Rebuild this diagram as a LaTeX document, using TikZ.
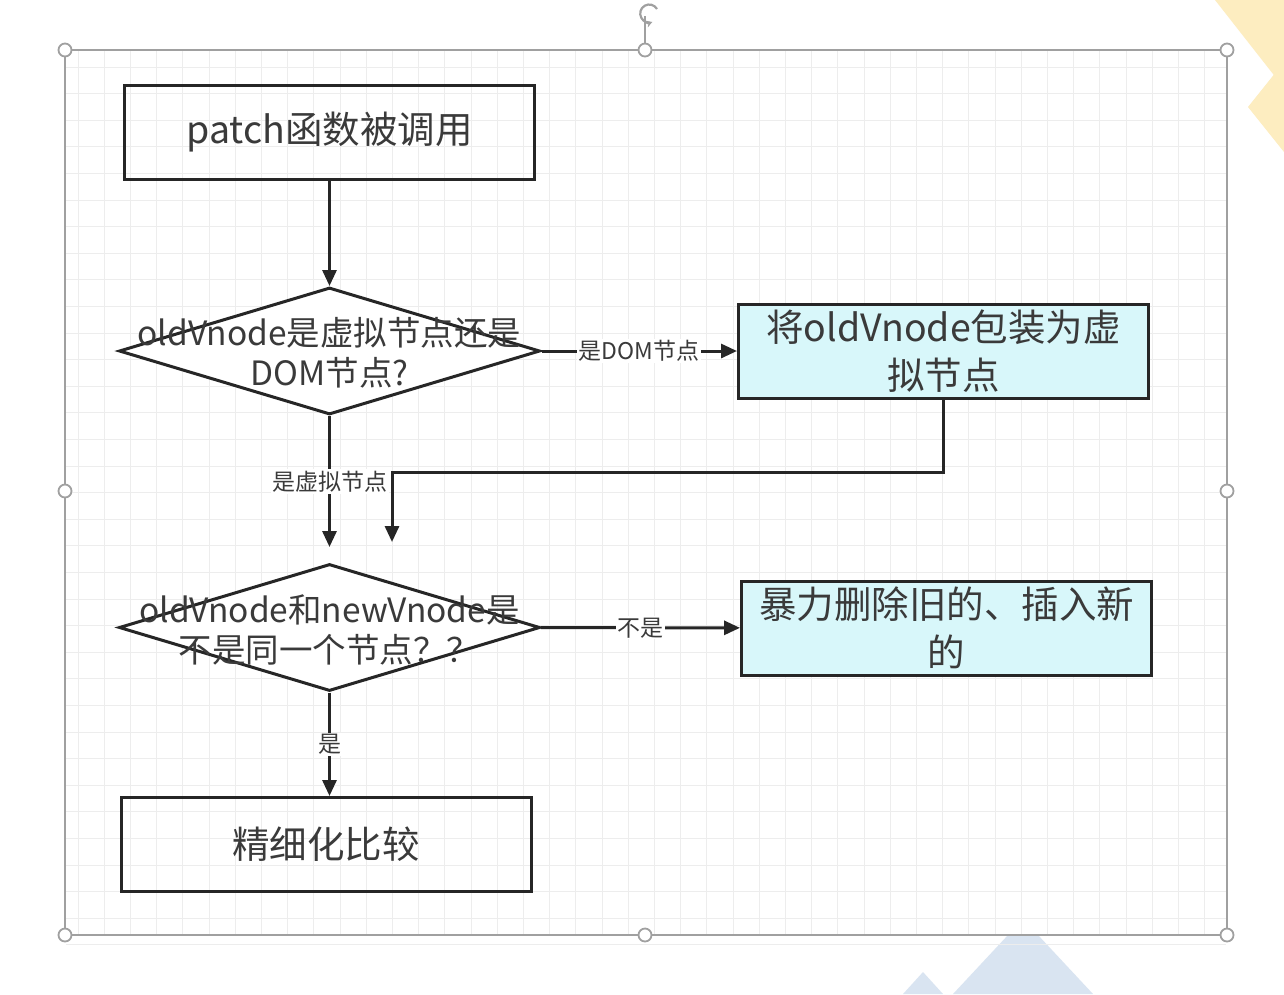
\documentclass[tikz,border=0pt]{standalone}
\usepackage{fontspec}
\setmainfont{Noto Sans CJK SC}
\usetikzlibrary{shapes.geometric,arrows.meta}
\definecolor{lineC}{HTML}{262626}
\definecolor{txtC}{HTML}{3A3A3A}
\definecolor{cyanF}{HTML}{D8F7FA}
\definecolor{gridC}{HTML}{EDEDED}
\definecolor{frameC}{HTML}{A0A0A0}
\definecolor{yel}{HTML}{FDEDC0}
\definecolor{blu}{HTML}{D9E4F1}
\tikzset{
  boxS/.style={draw=lineC, line width=3pt, rectangle, minimum width=410pt, minimum height=94pt, inner sep=0pt, text=txtC, font=\fontsize{37.5}{48}\selectfont, align=center},
  cbox/.style={boxS, fill=cyanF},
  diaS/.style={draw=lineC, line width=3pt, diamond, minimum width=421pt, minimum height=127pt, inner sep=0pt, fill=white},
  diaT/.style={text=txtC, font=\fontsize{33.5}{40}\selectfont, align=center, inner sep=0pt},
  arr/.style={draw=lineC, line width=3pt, -{Triangle[length=16pt,width=14pt]}},
  lbl/.style={fill=white, text=txtC, font=\fontsize{23}{26}\selectfont, inner sep=1.5pt},
  handle/.style={draw=frameC, fill=white, line width=1.8pt},
}
\begin{document}
\begin{tikzpicture}[x=1pt,y=-1pt]
\useasboundingbox (0,0) rectangle (1284,994);
\fill[white] (0,0) rectangle (1284,994);
% background decorations
\fill[yel] (1215,0) -- (1284,0) -- (1284,88) -- cycle;
\fill[yel] (1284,62) -- (1248,107) -- (1284,152) -- cycle;
\fill[blu] (953,994) -- (1008,935) -- (1038,935) -- (1093,994) -- cycle;
\fill[blu] (903,994) -- (923,972) -- (943,994) -- cycle;
% canvas
\fill[white] (65,50) rectangle (1227,935);
\foreach \i in {0,...,43} {
  \pgfmathsetmacro\gx{78+\i*26.2}
  \draw[gridC, line width=1pt] (\gx,51) -- (\gx,934);
}
\foreach \j in {0,...,33} {
  \pgfmathsetmacro\gy{67+\j*26.6}
  \draw[gridC, line width=1pt] (66,\gy) -- (1226,\gy);
}
% selection frame
\draw[frameC, line width=1.8pt] (65,50) rectangle (1227,935);
\draw[frameC, line width=1.8pt] (645,50) -- (645,16);
\draw[frameC, line width=2.2pt, -{Stealth[length=6pt,width=7pt]}] (657,9) arc[start angle=-30, end angle=-290, radius=9];
\foreach \p in {(65,50),(645,50),(1227,50),(65,491),(1227,491),(65,935),(645,935),(1227,935)}
  \draw[handle] \p circle[radius=6.5];
% nodes
\node[boxS] (b1) at (329.5,132) {patch函数被调用};
\node[diaS] (d1) at (329.5,351) {};
\node[diaT] (d1t) at (329.5,353) {oldVnode是虚拟节点还是\\DOM节点?};
\node[cbox] (b2) at (943.5,351) {将oldVnode包装为虚\\拟节点};
\node[diaS] (d2) at (329.5,627.5) {};
\node[diaT] (d2t) at (329.5,630) {oldVnode和newVnode是\\不是同一个节点？？};
\node[cbox] (b3) at (946.5,628) {暴力删除旧的、插入新\\的};
\node[boxS] (b4) at (326,844.5) {精细化比较};
\coordinate (j1) at (329.5,547);
\coordinate (k1) at (392,472);
\coordinate (k2) at (392,542);
% connectors
\draw[arr] (b1) -- (d1);
\draw[arr] (d1) -- node[lbl]{是DOM节点} (b2);
\draw[arr] (d1.south) -- node[lbl]{是虚拟节点} (j1);
\draw[arr] (b2.south) |- (k1) -- (k2);
\draw[arr] (d2) -- node[lbl]{不是} (b3);
\draw[arr] (d2.south) -- node[lbl]{是} (b4.north -| d2.south);
\end{tikzpicture}
\end{document}
